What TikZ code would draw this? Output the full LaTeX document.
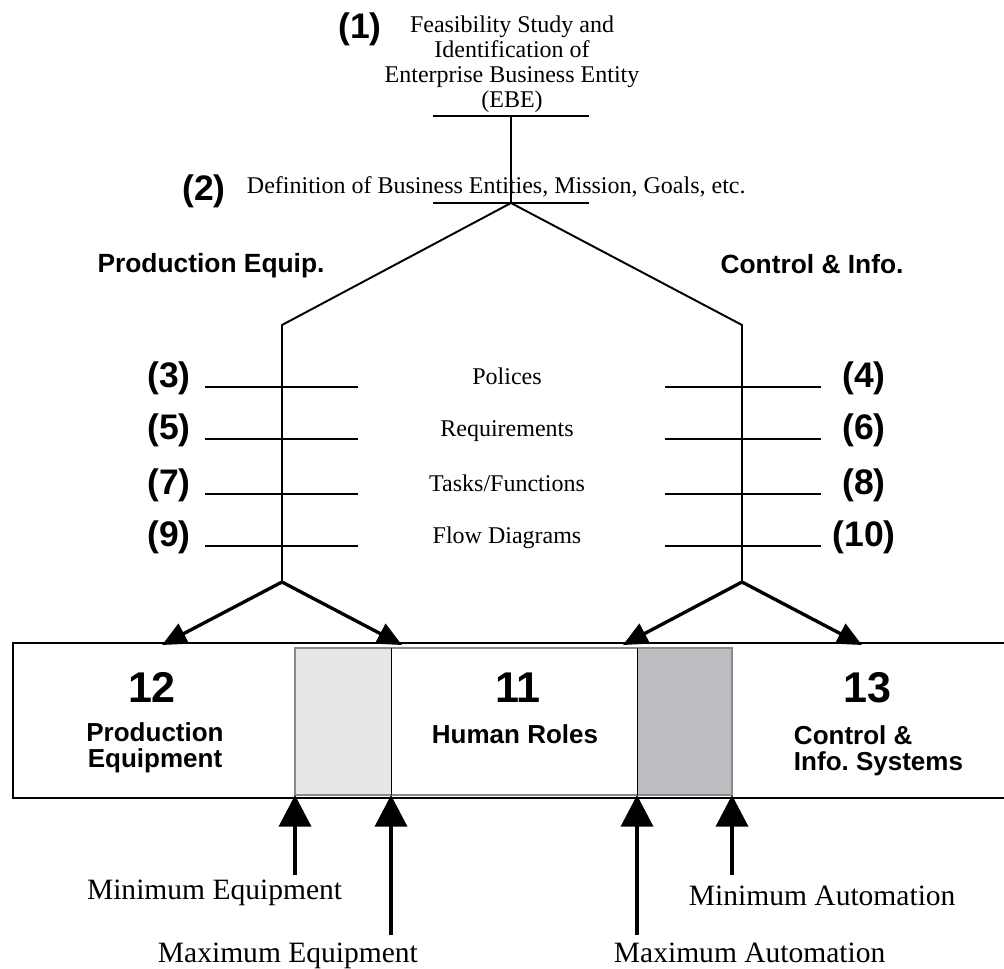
\documentclass[tikz,border=0pt]{standalone}
\usepackage{fontspec}
\setmainfont{Liberation Serif}
\setsansfont{Liberation Sans}
\usetikzlibrary{arrows.meta}

\definecolor{bandlight}{HTML}{E6E7E8}
\definecolor{banddark}{HTML}{BCBDC0}
\definecolor{bandedge}{HTML}{8A8A8C}

\tikzset{
  phase/.style={font=\fontsize{13.66}{14.2}\selectfont, inner sep=0pt},
  tag/.style={font=\fontsize{20.2}{24}\selectfont\sffamily\bfseries, inner sep=0pt},
  side/.style={font=\fontsize{15}{18}\selectfont\sffamily\bfseries, inner sep=0pt},
  bignum/.style={font=\fontsize{24.5}{28}\selectfont\sffamily\bfseries, inner sep=0pt},
  boxtxt/.style={font=\fontsize{14.8}{14.8}\selectfont\sffamily\bfseries, inner sep=0pt},
  limit/.style={font=\fontsize{16.8}{20}\selectfont, inner sep=0pt},
  feed/.style={line width=1.9pt, -{Triangle[length=14pt,width=12.5pt]}},
  push/.style={line width=2.8pt, -{Triangle[length=18pt,width=18pt]}},
}

\begin{document}
\begin{tikzpicture}[x=0.02cm,y=-0.02cm,line width=1.1pt]
    \useasboundingbox (0,0) rectangle (1004,968);

    % top of the tree
    \node[tag] (p1) at (360,29) {(1)};
    \node[phase, align=center, anchor=north] (feas) at (512,15)
      {Feasibility Study and\\Identification of\\Enterprise Business Entity\\(EBE)};
    \coordinate (ebe) at (511,116);
    \coordinate (biz) at (511,203);
    \draw (433,116) -- (589,116);
    \draw (433,203) -- (589,203);
    \draw (ebe) -- (biz);
    \node[tag] (p2) at (204,191) {(2)};
    \node[phase, anchor=base west] (defn) at (246,193) {Definition of Business Entities, Mission, Goals, etc.};

    % the two branches
    \coordinate (lcorner) at (282,325);
    \coordinate (rcorner) at (742,325);
    \coordinate (lfork) at (282,582);
    \coordinate (rfork) at (742,582);
    \draw (lfork) -- (lcorner) -- (biz) -- (rcorner) -- (rfork);
    \node[side, anchor=base] (peq) at (211,272) {Production Equip.};
    \node[side, anchor=base] (cinfo) at (812,273) {Control \& Info.};

    \foreach \y/\l/\r/\t in {387/3/4/Polices,439/5/6/Requirements,494/7/8/{Tasks/Functions},546/9/10/{Flow Diagrams}}{
      \draw[line width=.85pt] (205,\y) -- (358,\y) (665,\y) -- (821,\y);
      \node[tag] (tag\l) at (169,\y-9) {(\l)};
      \node[tag] (tag\r) at (864,\y-9) {(\r)};
      \node[phase, anchor=base] (row\l) at (507,\y-3) {\t};
    }

    % bottom box
    \fill[bandlight] (295,648) rectangle (391,795);
    \fill[banddark] (637,648) rectangle (732,795);
    \draw[bandedge, line width=.6pt] (295,648) rectangle (732,795);
    \draw[line width=.5pt] (391,648) -- (391,795) (637,648) -- (637,795);
    \draw[line width=.9pt] (1010,643) -- (13,643) -- (13,798) -- (1010,798);

    \node[bignum, anchor=base] (n12) at (152,702) {12};
    \node[boxtxt, align=center, anchor=north] (pe) at (155,722) {Production\\Equipment};
    \node[bignum, anchor=base] (n11) at (518,702) {11};
    \node[boxtxt, anchor=base] (hr) at (515,743) {Human Roles};
    \node[bignum, anchor=base] (n13) at (867,702) {13};
    \node[boxtxt, align=left, anchor=north west] (cis) at (793,725) {Control \&\\Info.\ Systems};

    \coordinate (peIn) at (162,645);
    \coordinate (hrInL) at (402,645);
    \coordinate (hrInR) at (623,645);
    \coordinate (cisIn) at (862,645);
    \draw[feed] (lfork) -- (peIn);
    \draw[feed] (lfork) -- (hrInL);
    \draw[feed] (rfork) -- (hrInR);
    \draw[feed] (rfork) -- (cisIn);

    % limits of the human roles
    \coordinate (eqmin) at (295,795);
    \coordinate (eqmax) at (391,795);
    \coordinate (aumax) at (637,795);
    \coordinate (aumin) at (732,795);
    \coordinate (eqminTail) at (295,875);
    \coordinate (eqmaxTail) at (391,935);
    \coordinate (aumaxTail) at (637,935);
    \coordinate (auminTail) at (732,875);
    \draw[push] (eqminTail) -- (eqmin);
    \draw[push] (eqmaxTail) -- (eqmax);
    \draw[push] (aumaxTail) -- (aumax);
    \draw[push] (auminTail) -- (aumin);
    \node[limit, anchor=base east] (mineq) at (343,899) {Minimum Equipment};
    \node[limit, anchor=base west] (maxeq) at (157,962) {Maximum Equipment};
    \node[limit, anchor=base west] (minau) at (688,905) {Minimum Automation};
    \node[limit, anchor=base west] (maxau) at (613,962) {Maximum Automation};
\end{tikzpicture}
\end{document}
